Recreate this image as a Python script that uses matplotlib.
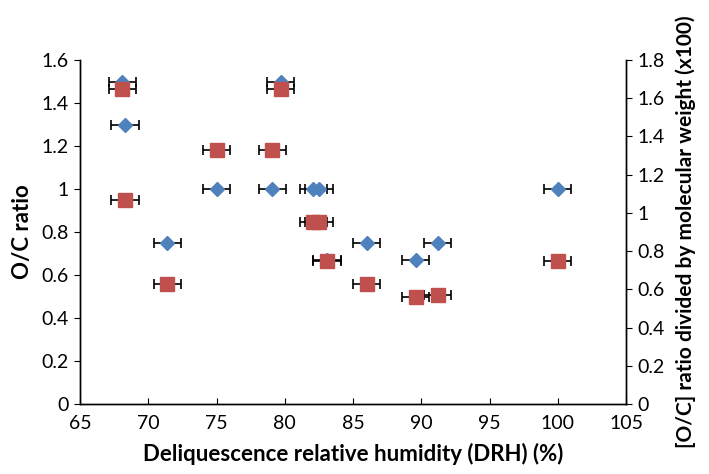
import matplotlib
matplotlib.use('Agg')
import matplotlib.pyplot as plt

plt.rcParams['font.family'] = ['Lato', 'DejaVu Sans']

# O/C ratio (left axis)
drh_oc = [68.1, 68.3, 71.4, 75.0, 79.1, 79.7, 82.1, 82.5, 83.1, 86.0, 89.6, 91.2, 100.0]
oc_ratio = [1.5, 1.3, 0.75, 1.0, 1.0, 1.5, 1.0, 1.0, 0.67, 0.75, 0.67, 0.75, 1.0]

# O/C ratio divided by molecular weight x100 (right axis)
drh_mw = [68.1, 68.3, 71.4, 75.0, 79.1, 79.7, 82.1, 82.5, 83.1, 86.0, 89.6, 91.2, 100.0]
oc_mw = [1.65, 1.07, 0.63, 1.33, 1.33, 1.65, 0.95, 0.95, 0.75, 0.63, 0.56, 0.57, 0.75]

drh_err = 1.0

blue = '#4F81BD'
red = '#C0504D'

fig = plt.figure(figsize=(7.09, 4.74), dpi=100)
ax = fig.add_axes([80 / 709, 1 - 404 / 474, 546 / 709, 344 / 474])
ax2 = ax.twinx()

ax.errorbar(drh_oc, oc_ratio, xerr=drh_err, fmt='D', color=blue, ms=7.5,
            mec=blue, ecolor='black', elinewidth=1.2, capsize=3.5, capthick=1.2, zorder=3)
ax2.errorbar(drh_mw, oc_mw, xerr=drh_err, fmt='s', color=red, ms=10,
             mec=red, ecolor='black', elinewidth=1.2, capsize=3.5, capthick=1.2, zorder=3)

ax.set_xlim(65, 105)
ax.set_ylim(0, 1.6)
ax2.set_ylim(0, 1.8)
ax.set_xticks(range(65, 106, 5))
ax.set_yticks([i * 0.2 for i in range(9)])
ax.set_yticklabels(['0', '0.2', '0.4', '0.6', '0.8', '1', '1.2', '1.4', '1.6'])
ax2.set_yticks([i * 0.2 for i in range(10)])
ax2.set_yticklabels(['0', '0.2', '0.4', '0.6', '0.8', '1', '1.2', '1.4', '1.6', '1.8'])

for a in (ax, ax2):
    a.spines['top'].set_visible(False)
    for s in a.spines.values():
        s.set_linewidth(1.0)
ax.tick_params(axis='y', direction='out', length=4, labelsize=14, pad=4)
ax.tick_params(axis='x', direction='in', length=4, labelsize=14, pad=8)
ax2.tick_params(axis='y', direction='out', length=4, labelsize=14, pad=4)

ax.set_xlabel('Deliquescence relative humidity (DRH) (%)', fontsize=16,
              fontweight='bold', labelpad=8)
ax.set_ylabel('O/C ratio', fontsize=16, fontweight='bold', labelpad=6)
ax2.set_ylabel('[O/C] ratio divided by molecular weight (x100)', fontsize=15,
               fontweight='bold', labelpad=8)

fig.savefig('out.png', dpi=100)
